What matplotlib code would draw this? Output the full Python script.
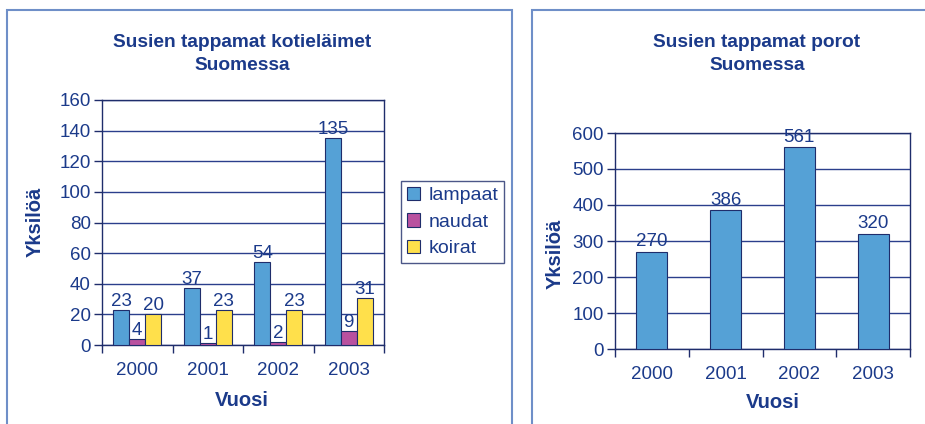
import matplotlib
matplotlib.use("Agg")
import matplotlib.pyplot as plt
import numpy as np
from matplotlib.patches import Rectangle

plt.rcParams['font.family'] = ['Liberation Sans', 'DejaVu Sans']

years = ["2000", "2001", "2002", "2003"]
lampaat = [23, 37, 54, 135]
naudat = [4, 1, 2, 9]
koirat = [20, 23, 23, 31]
porot = [270, 386, 561, 320]
series_names = ["lampaat", "naudat", "koirat"]

title_left = "Susien tappamat kotieläimet\nSuomessa"
title_right = "Susien tappamat porot\nSuomessa"
ylabel = "Yksilöä"
xlabel = "Vuosi"

NAVY = "#1B3A8A"
EDGE = "#1F2D6B"
GRID = "#2B3F8C"
colors = ["#55A1D6", "#B9519F", "#FFE04B"]

W, H = 925, 424
fig = plt.figure(figsize=(W / 100, H / 100), dpi=100)

def px(l, t, r, b):
    return [l / W, (H - b) / H, (r - l) / W, (b - t) / H]

# panel borders
fig.add_artist(Rectangle((7 / W, -0.1), (512 - 7) / W, (H - 10) / H + 0.1,
                         transform=fig.transFigure, fill=False,
                         edgecolor="#6F8FC8", lw=1.5))
fig.add_artist(Rectangle((532 / W, -0.1), 1.0, (H - 10) / H + 0.1,
                         transform=fig.transFigure, fill=False,
                         edgecolor="#6F8FC8", lw=1.5))

def style_axes(ax, n):
    for s in ax.spines.values():
        s.set_color(EDGE)
        s.set_linewidth(1.0)
    ax.set_xlim(-0.5, n - 0.5)
    ax.set_xticks(range(n))
    ax.set_xticklabels(years)
    ax.set_xticks(np.arange(-0.5, n, 1.0), minor=True)
    ax.tick_params(axis='x', which='major', length=0, pad=12,
                   labelsize=13.5, labelcolor=NAVY)
    ax.tick_params(axis='x', which='minor', length=6, color=EDGE, width=1)
    ax.tick_params(axis='y', length=6, color=EDGE, width=1,
                   labelsize=13.5, labelcolor=NAVY, pad=2)
    ax.grid(axis='y', color=GRID, lw=1.0)
    ax.set_axisbelow(True)

# left chart
ax1 = fig.add_axes(px(102, 100, 384, 345))
x = np.arange(len(years))
bw = 0.225
for i, (vals, c) in enumerate(zip([lampaat, naudat, koirat], colors)):
    bars = ax1.bar(x + (i - 1) * bw, vals, bw, color=c, edgecolor=EDGE,
                   lw=0.8, label=series_names[i], zorder=3)
    for b, v in zip(bars, vals):
        ax1.annotate(str(v), (b.get_x() + b.get_width() / 2, v),
                     xytext=(0, 0), textcoords='offset points',
                     ha='center', va='bottom', fontsize=13.5,
                     color=NAVY, zorder=4)
ax1.set_ylim(0, 160)
ax1.set_yticks(range(0, 161, 20))
style_axes(ax1, len(years))
fig.text(242 / W, 1 - 54 / H, title_left, ha='center', va='center',
         fontsize=13.8, fontweight='bold', color=NAVY, linespacing=1.45)
fig.text(35 / W, 1 - 222 / H, ylabel, rotation=90, ha='center', va='center',
         fontsize=14.5, fontweight='bold', color=NAVY)
fig.text(242 / W, 1 - 400 / H, xlabel, ha='center', va='center',
         fontsize=14.5, fontweight='bold', color=NAVY)
leg = ax1.legend(loc='center left', bbox_to_anchor=(401 / W, 1 - 222 / H),
                 bbox_transform=fig.transFigure, frameon=True, fancybox=False,
                 fontsize=14, handlelength=0.7, handleheight=0.7,
                 handletextpad=0.4, labelspacing=0.45, borderpad=0.3,
                 borderaxespad=0)
leg.get_frame().set_edgecolor(EDGE)
leg.get_frame().set_linewidth(1.0)
for t in leg.get_texts():
    t.set_color(NAVY)

# right chart
ax2 = fig.add_axes(px(615, 133, 910, 349))
bars = ax2.bar(x, porot, 0.42, color=colors[0], edgecolor=EDGE, lw=0.8, zorder=3)
for b, v in zip(bars, porot):
    ax2.annotate(str(v), (b.get_x() + b.get_width() / 2, v),
                 xytext=(0, 1), textcoords='offset points',
                 ha='center', va='bottom', fontsize=13.5, color=NAVY, zorder=4)
ax2.set_ylim(0, 600)
ax2.set_yticks(range(0, 601, 100))
style_axes(ax2, len(years))
fig.text(757 / W, 1 - 54 / H, title_right, ha='center', va='center',
         fontsize=13.8, fontweight='bold', color=NAVY, linespacing=1.45)
fig.text(555 / W, 1 - 254 / H, ylabel, rotation=90, ha='center', va='center',
         fontsize=14.5, fontweight='bold', color=NAVY)
fig.text(773 / W, 1 - 402 / H, xlabel, ha='center', va='center',
         fontsize=14.5, fontweight='bold', color=NAVY)

fig.savefig("out.png", dpi=100)
